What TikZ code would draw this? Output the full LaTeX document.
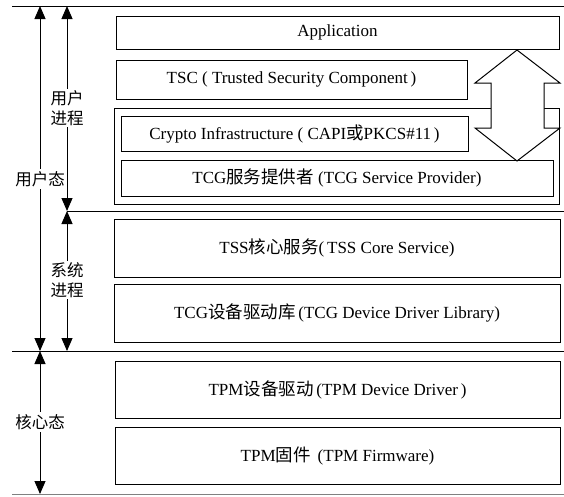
\documentclass[tikz,border=0pt]{standalone}
\usepackage{fontspec}
\setmainfont{Liberation Serif}
\newfontfamily\cjk{Noto Sans CJK SC}
\newcommand{\zh}[1]{{\cjk\fontsize{17.5}{19}\selectfont #1}}
\usetikzlibrary{arrows.meta}

\begin{document}
\begin{tikzpicture}[x=1pt,y=-1pt,
  layer/.style={draw, line width=1pt, inner sep=0pt, outer sep=0pt,
    anchor=north west, font=\fontsize{17}{19}\selectfont},
  rule/.style={line width=1pt},
  span/.style={line width=1pt,
    {Triangle[length=13pt,width=11pt]}-{Triangle[length=13pt,width=11pt]}},
  tag/.style={fill=white, inner sep=2pt, align=center,
    font=\cjk\fontsize{16.5}{19.5}\selectfont},
  bigarrow/.style={draw, fill=white, line width=1pt, line join=miter}
]
\useasboundingbox (0,0) rectangle (564,496);

% horizontal boundaries between privilege levels
\draw[rule] (12,6) -- (564,6);
\draw[rule] (67,211) -- (564,211);
\draw[rule] (12,351) -- (564,351);
\draw[rule, gray] (12,494) -- (564,494);

% user-process layers
\node[layer, minimum width=443pt, minimum height=33pt] (app) at (116,16) {Application};
\node[layer, minimum width=351pt, minimum height=39pt] (tsc) at (116,60)
  {TSC ( Trusted Security Component\,)};
\node[layer, minimum width=445pt, minimum height=96pt] (group) at (114,108) {};
\node[layer, minimum width=347pt, minimum height=35pt] (crypto) at (121,116)
  {Crypto Infrastructure ( CAPI\zh{或}PKCS\#11\,)};
\node[layer, minimum width=432pt, minimum height=36pt] (tcgsp) at (121,160)
  {TCG\zh{服务提供者} (TCG Service Provider)};

% two-way data flow arrow
\draw[bigarrow] (517,50) -- (560,83) -- (544,83) -- (544,128) -- (560,128)
  -- (517,161) -- (475,128) -- (491,128) -- (491,83) -- (475,83) -- cycle;

% system-process layers
\node[layer, minimum width=446pt, minimum height=58pt] (tss) at (114,219)
  {TSS\zh{核心服务}(\,TSS Core Service)};
\node[layer, minimum width=446pt, minimum height=58pt] (ddl) at (114,284)
  {TCG\zh{设备驱动库}\,(TCG Device Driver Library)};

% kernel layers
\node[layer, minimum width=445pt, minimum height=57pt] (tpmdd) at (115,361)
  {TPM\zh{设备驱动}\,(TPM Device Driver\,)};
\node[layer, minimum width=445pt, minimum height=57pt] (tpmfw) at (115,427)
  {TPM\zh{固件}\ \,(TPM Firmware)};

% dimension arrows on the left
\coordinate (uTop) at (40,6);
\coordinate (uBot) at (40,351);
\coordinate (pTop) at (67,6);
\coordinate (pMid) at (67,211);
\coordinate (pBot) at (67,351);
\coordinate (kTop) at (40,351);
\coordinate (kBot) at (40,494);

\draw[span] (uTop) -- (uBot);
\draw[span] (pTop) -- (pMid);
\draw[span] (pMid) -- (pBot);
\draw[span] (kTop) -- (kBot);

\node[tag] (userstate) at (40,179) {用户态};
\node[tag] (userproc) at (67,108) {用户\\进程};
\node[tag] (sysproc) at (67,280) {系统\\进程};
\node[tag] (kernel) at (40,422) {核心态};
\end{tikzpicture}
\end{document}
